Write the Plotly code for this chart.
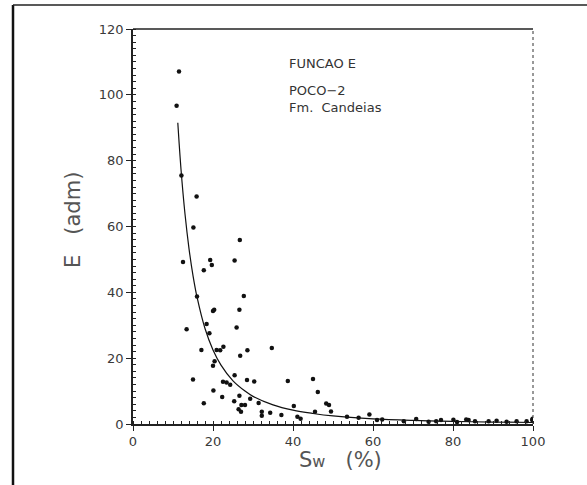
import plotly.graph_objects as go

# Measured scatter points: Sw (%) and E (adm)
sw_pts = [11.5, 10.9, 12.1, 15.9, 15.1, 26.7, 12.5, 19.3, 19.7, 17.7, 25.4, 16.0, 27.7,
          20.3, 20.0, 26.6, 13.4, 18.4, 19.1, 25.9, 17.1, 20.9, 21.8, 22.6, 28.6, 34.7,
          26.8, 20.4, 20.0, 15.0, 22.5, 23.4, 24.3, 25.4, 28.5, 30.3, 38.7, 45.0, 20.1,
          46.2, 17.7, 22.3, 26.6, 25.3, 27.1, 28.0, 29.3, 31.4, 26.4, 27.0, 32.2, 32.2,
          34.3, 37.1, 40.2, 41.1, 41.9, 48.3, 49.0, 45.5, 49.5, 53.5, 56.4, 59.1, 61.0,
          62.3, 67.7, 70.8, 73.9, 75.8, 77.0, 80.1, 81.0, 83.3, 83.9, 85.5, 88.9, 90.9,
          93.4, 95.9, 98.4, 99.8, 99.9]
e_pts = [107.1, 96.7, 75.5, 69.1, 59.7, 55.9, 49.2, 49.8, 48.3, 46.7, 49.7, 38.7, 38.9,
         34.7, 34.3, 34.7, 28.8, 30.4, 27.6, 29.3, 22.5, 22.5, 22.4, 23.5, 22.4, 23.1,
         20.7, 19.1, 17.7, 13.5, 12.8, 12.6, 11.9, 14.8, 13.4, 12.9, 13.1, 13.7, 10.2,
         9.7, 6.3, 8.2, 8.6, 6.9, 5.8, 5.8, 7.7, 6.4, 4.5, 3.7, 3.7, 2.5,
         3.4, 2.7, 5.5, 2.2, 1.6, 6.2, 5.8, 3.7, 3.8, 2.2, 1.9, 2.9, 1.2,
         1.4, 0.8, 1.5, 0.7, 0.8, 1.2, 1.3, 0.6, 1.4, 1.2, 0.8, 0.8, 1.0,
         0.7, 0.8, 0.8, 1.2, 1.6]

# Fitted curve
sw_fit = [11.2, 12, 13, 14, 15, 16, 18, 20, 22, 25, 28, 30, 35, 40, 45, 50, 60, 70, 80, 90, 100]
e_fit = [91.5, 77.4, 63.8, 53.3, 45.1, 38.6, 29.0, 22.5, 17.9, 13.1, 10.0, 8.4, 5.8, 4.2,
         3.2, 2.45, 1.57, 1.09, 0.79, 0.59, 0.46]

x_ticks = [0, 20, 40, 60, 80, 100]
y_ticks = [0, 20, 40, 60, 80, 100, 120]

fig = go.Figure()
fig.add_trace(go.Scatter(x=sw_fit, y=e_fit, mode="lines", line=dict(color="#111", width=1.2, shape="spline"),
                         hoverinfo="skip", showlegend=False))
fig.add_trace(go.Scatter(x=sw_pts, y=e_pts, mode="markers",
                         marker=dict(color="#111", size=4.5, symbol="circle"), showlegend=False))

font_main = "DejaVu Sans"
axis_common = dict(showgrid=False, zeroline=False, showline=True, linecolor="#222", linewidth=1.5,
                   ticks="outside", ticklen=5, tickcolor="#222",
                   tickfont=dict(family=font_main, size=13, color="#3a3a3a"))

fig.update_xaxes(range=[0, 100], tickvals=x_ticks, ticktext=[str(v) for v in x_ticks],
                 minor=dict(dtick=2, ticks="inside", ticklen=3, tickcolor="#222", tickwidth=1), **axis_common)
fig.update_yaxes(range=[0, 120], tickvals=y_ticks, ticktext=[str(v) for v in y_ticks],
                 minor=dict(dtick=2, ticks="inside", ticklen=3, tickcolor="#222", tickwidth=1), **axis_common)

W, H = 587, 485
L, R, T, B = 133, 54, 29, 61
pw, ph = W - L - R, H - T - B

def px(x):
    return (x - L) / pw

def py(y):
    return (H - B - y) / ph

shapes = [
    # top border of plot (solid) and right border (dotted)
    dict(type="line", xref="paper", yref="paper", x0=0, x1=1, y0=1, y1=1, line=dict(color="#222", width=1.3)),
    dict(type="line", xref="paper", yref="paper", x0=1, x1=1, y0=0, y1=1, line=dict(color="#333", width=1, dash="dot")),
    # outer frame
    dict(type="line", xref="paper", yref="paper", x0=px(13), x1=px(13), y0=py(H), y1=py(5), line=dict(color="#111", width=2.5)),
    dict(type="line", xref="paper", yref="paper", x0=px(13), x1=px(W), y0=py(5), y1=py(5), line=dict(color="#222", width=1.5)),
]

annotations = [
    dict(text="FUNCAO E", x=px(287), y=py(63), xanchor="left", yanchor="middle"),
    dict(text="POCO−2", x=px(287), y=py(90), xanchor="left", yanchor="middle"),
    dict(text="Fm.  Candeias", x=px(287), y=py(108), xanchor="left", yanchor="middle"),
]
for a in annotations:
    a.update(xref="paper", yref="paper", showarrow=False, font=dict(family=font_main, size=13, color="#333"))

annotations.append(dict(text="E   (adm)", x=px(73), y=py(220), xref="paper", yref="paper", showarrow=False,
                        textangle=-90, xanchor="center", yanchor="middle",
                        font=dict(family=font_main, size=21, color="#555")))
annotations.append(dict(text="S<span style='font-size:16px'>w</span>   (%)", x=px(340), y=py(460),
                        xref="paper", yref="paper", showarrow=False, xanchor="center", yanchor="middle",
                        font=dict(family=font_main, size=21, color="#555")))

fig.update_layout(width=W, height=H, margin=dict(l=L, r=R, t=T, b=B),
                  paper_bgcolor="white", plot_bgcolor="white",
                  shapes=shapes, annotations=annotations, showlegend=False)

fig.write_html("out.html")
